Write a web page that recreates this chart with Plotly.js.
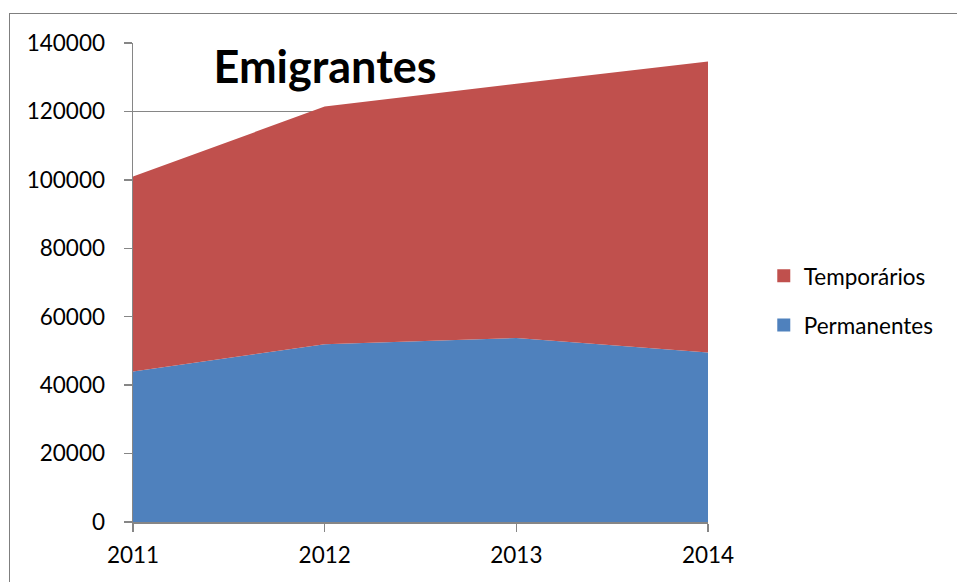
<!DOCTYPE html>
<html>
<head>
<meta charset="utf-8">
<script src="https://cdn.plot.ly/plotly-3.0.1.min.js"></script>
<style>
html,body{margin:0;padding:0;background:#fff;}
#wrap{position:relative;width:957px;height:582px;overflow:hidden;}
#chart{width:957px;height:582px;}
#frame{position:absolute;left:9px;top:13px;width:1000px;height:700px;border:1.5px solid #7f7f7f;pointer-events:none;}
</style>
</head>
<body>
<div id="wrap"><div id="chart"></div><div id="frame"></div></div>
<script>
const years = [2011, 2012, 2013, 2014];
const permanentes = [43998, 51958, 53786, 49572];
const temporarios = [56980, 69460, 74322, 85052];
const seriesNames = ['Permanentes', 'Temporários'];
const colors = ['#4F81BD', '#C0504D'];
const yTicks = [0, 20000, 40000, 60000, 80000, 100000, 120000, 140000];

const font = 'Lato, "Open Sans", sans-serif';
const fs = 22.5;

const traces = [
  {x: years, y: permanentes, type: 'scatter', mode: 'none', stackgroup: 'one',
   fillcolor: colors[0], name: seriesNames[0], showlegend: false, hoverinfo: 'skip'},
  {x: years, y: temporarios, type: 'scatter', mode: 'none', stackgroup: 'one',
   fillcolor: colors[1], name: seriesNames[1], showlegend: false, hoverinfo: 'skip'},
  {x: [null], y: [null], type: 'scatter', mode: 'markers', name: seriesNames[1], legendgroup: 'a',
   marker: {symbol: 'square', size: 13, color: colors[1]}},
  {x: [null], y: [null], type: 'scatter', mode: 'markers', name: seriesNames[0], legendgroup: 'b',
   marker: {symbol: 'square', size: 13, color: colors[0]}}
];

const layout = {
  width: 957, height: 582,
  margin: {l: 133, r: 249, t: 43, b: 60},
  paper_bgcolor: '#fff', plot_bgcolor: '#fff',
  font: {family: font, size: fs, color: '#000'},
  title: {text: '<b>Emigrantes</b>', font: {family: font, size: 45, color: '#000'},
          x: 0.334, xref: 'paper', xanchor: 'center', y: 1 - 67/582, yref: 'container', yanchor: 'middle'},
  xaxis: {range: [2011, 2014], tickvals: years, ticktext: years.map(String),
          showgrid: false, zeroline: false, showline: true, linecolor: '#868686', linewidth: 1.5,
          ticks: 'outside', ticklen: 8, tickcolor: '#868686', tickwidth: 1.5,
          ticklabelstandoff: 4,
          tickfont: {family: font, size: fs, color: '#000'}, fixedrange: true},
  yaxis: {range: [0, 140000], tickvals: yTicks, ticktext: yTicks.map(String),
          showgrid: true, gridcolor: '#868686', gridwidth: 1.5, zeroline: false,
          showline: true, linecolor: '#868686', linewidth: 1.5,
          ticks: 'outside', ticklen: 8, tickcolor: '#868686', tickwidth: 1.5,
          ticklabelstandoff: 14,
          tickfont: {family: font, size: fs, color: '#000'}, fixedrange: true},
  legend: {x: 1.097, y: 0.462, xanchor: 'left', yanchor: 'middle', traceorder: 'grouped',
           font: {family: font, size: fs, color: '#000'}, itemwidth: 30, tracegroupgap: 17,
           bgcolor: 'rgba(0,0,0,0)'},
  showlegend: true
};

Plotly.newPlot('chart', traces, layout, {displayModeBar: false, staticPlot: true});
</script>
</body>
</html>
